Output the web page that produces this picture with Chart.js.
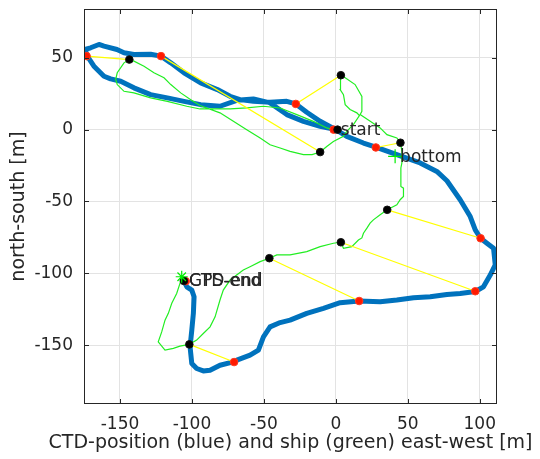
<!DOCTYPE html>
<html>
<head>
<meta charset="utf-8">
<script src="https://cdn.jsdelivr.net/npm/chart.js@4/dist/chart.umd.min.js"></script>
<style>
  html, body { margin: 0; padding: 0; background: #ffffff; }
  #wrap { width: 540px; height: 459px; }
</style>
</head>
<body>
<div id="wrap"><canvas id="c" width="540" height="459"></canvas></div>
<script>
// CTD track (blue), metres east-west / north-south
const ctdX = [0,-10.9,-22.5,-34.1,-45.7,-57.3,-68.8,-80.5,-93.9,-105.5,-117.1,-128.7,-140.3,-149.5,-156.5,-161.1,-168.1,-172.7,-174.3,-170.4,-164.6,-161.1,-152.1,-147.2,-140.3,-128.7,-121.5,-114.7,-105.5,-93.9,-82.3,-73.5,-66.6,-57.3,-45.7,-34.1,-27.8,-20.2,-10.9,0,7.6,19.2,27.8,42.4,58.6,70.2,77.2,86.4,93.4,96.9,100.6,105.0,109.6,110.8,107.3,102.6,96.9,86.4,77.2,65.6,54.0,42.4,30.8,16.2,3.0,-8.6,-20.2,-31.8,-38.7,-45.7,-50.3,-53.8,-59.6,-68.8,-71.2,-80.5,-87.4,-92.1,-96.7,-100.1,-101.3,-100.1,-99.0,-98.5,-100.1,-103.6,-105.5];
const ctdY = [0,2.3,5.8,10.5,18.6,21.4,20.4,16.3,17.4,19.7,22.1,24.4,29.1,33.7,35.4,37.2,44.2,51.2,55.8,57.0,59.3,58.1,55.8,53.5,52.3,52.5,51.2,46.5,39.6,32.6,27.9,23.2,20.9,19.7,19.1,19.7,17.9,12.1,5.8,0,-4.7,-9.3,-12.1,-17.4,-23.2,-29.1,-35.6,-48.8,-60.5,-69.8,-75.6,-79.1,-82.6,-94.2,-101.2,-109.4,-112.7,-114.0,-114.7,-116.3,-117.0,-118.6,-119.8,-119.3,-120.5,-124.4,-127.9,-132.6,-134.3,-137.3,-144.2,-153.5,-157.0,-160.5,-161.7,-164.0,-167.5,-168.0,-166.3,-162.8,-151.2,-139.6,-127.9,-116.3,-111.7,-109.4,-105.4];

// Ship track (green)
const shipX = [0,-6.3,-15.6,-27.1,-38.7,-50.3,-61.9,-73.5,-94.4,-103.6,-117.1,-128.7,-140.3,-147.2,-151.9,-153.0,-151.9,-147.2,-143.5,-140.3,-133.3,-126.4,-119.4,-114.7,-107.8,-100.8,-94.4,-80.5,-71.2,-61.9,-52.6,-45.7,-38.7,-31.8,-22.5,-16.5,-10.9,-6.3,-1.7,5.3,7.6,12.2,16.4,14.6,9.9,6.5,5.3,3.0,3.0,3.5,6.5,13.4,18.1,18.1,16.9,23.9,30.8,35.5,42.4,44.9,45.9,45.9,45.2,45.2,47.0,47.0,44.7,42.4,35.7,30.8,26.1,23.8,21.6,19.2,18.1,15.7,11.1,5.3,3.5,-1.7,-10.9,-20.2,-31.8,-41.0,-46.2,-52.6,-59.6,-64.3,-73.5,-78.2,-80.5,-83.9,-87.4,-92.1,-96.7,-101.8,-108.3,-112.9,-118.7,-123.4,-121.0,-118.7,-116.4,-114.0,-110.6,-108.3,-107.1];
const shipY = [-0.5,1.2,5.8,10.5,15.1,16.3,15.1,14.4,14.4,16.3,19.7,22.1,25.6,26.7,31.4,34.9,39.6,46.5,48.8,47.7,44.2,39.6,36.1,31.4,25.6,20.9,16.8,11.7,5.8,0,-5.8,-10.5,-12.8,-15.1,-17.4,-17.4,-15.6,-11.7,-8.2,-4.7,-1.2,3.5,9.8,11.7,14.0,17.4,24.4,27.9,34.9,37.9,36.1,31.4,23.2,12.8,10.5,5.8,1.2,-3.5,-5.8,-8.9,-15.1,-23.2,-26.7,-39.6,-40.7,-46.5,-48.8,-52.3,-55.8,-59.3,-62.8,-65.1,-68.6,-72.1,-75.4,-76.8,-81.4,-82.6,-78.4,-79.1,-81.4,-84.9,-87.2,-87.2,-89.5,-91.9,-95.4,-97.7,-104.7,-111.7,-118.6,-130.3,-137.3,-141.9,-146.5,-149.5,-150.7,-152.3,-153.5,-147.7,-140.8,-132.6,-127.9,-120.9,-114.0,-107.0,-102.4];

// Simultaneous positions: CTD (red) and ship (black)
const ctdMarkX = [-173.2,-121.5,-27.8,-1.5,27.8,100.6,96.9,16.2,-70.7,-104.3];
const ctdMarkY = [51.2,51.2,17.9,0,-12.4,-75.6,-112.5,-119.3,-161.8,-105.5];
const shipMarkX = [-143.5,-10.9,3.5,1.2,44.9,35.7,3.5,-46.2,-101.8,-105.6];
const shipMarkY = [48.8,-15.6,37.9,0,-9.1,-55.8,-78.4,-89.5,-149.5,-105.3];

// Special markers
const bottomMark = [41.2, -18.6];
const gpsEndMark = [-107.1, -102.4];

// Text annotations
const labelText = ['start', 'bottom', 'CTD-end', 'GPS-end'];
const labelX = [0, 41.2, -105.5, -105.5];
const labelY = [0, -18.6, -105.0, -105.0];

// Axes
const xTicks = [-150, -100, -50, 0, 50, 100];
const yTicks = [-150, -100, -50, 0, 50];
const xRange = [-175, 112];
const yRange = [-191, 84];
const xTitle = 'CTD-position (blue) and ship (green) east-west [m]';
const yTitle = 'north-south [m]';

const toPts = (xs, ys) => xs.map((x, i) => ({x: x, y: ys[i]}));
const yellowPts = [];
ctdMarkX.forEach((x, i) => {
  yellowPts.push({x: shipMarkX[i], y: shipMarkY[i]});
  yellowPts.push({x: x, y: ctdMarkY[i]});
  yellowPts.push({x: NaN, y: NaN});
});

const FONT = 'DejaVu Sans';
const AXC = '#262626';
const TITLE_SIZE = 19;

const boxPlugin = {
  id: 'boxPlugin',
  afterDatasetsDraw(chart) {
    const ctx = chart.ctx, xs = chart.scales.x, ys = chart.scales.y;
    ctx.save();
    ctx.fillStyle = AXC;
    ctx.font = '17px "' + FONT + '"';
    ctx.textAlign = 'left';
    ctx.textBaseline = 'middle';
    labelText.forEach((t, i) => {
      const px = xs.getPixelForValue(labelX[i]);
      const py = ys.getPixelForValue(labelY[i]);
      ctx.fillText(t, px + 5, py + 1);
    });
    ctx.restore();
  },
  afterDraw(chart) {
    const ctx = chart.ctx, a = chart.chartArea, xs = chart.scales.x, ys = chart.scales.y;
    ctx.save();
    ctx.strokeStyle = AXC;
    ctx.lineWidth = 1;
    const L = Math.round(a.left) + 0.5, R = Math.round(a.right) - 0.5;
    const T = Math.round(a.top) + 0.5, B = Math.round(a.bottom) - 0.5;
    ctx.strokeRect(L, T, R - L, B - T);
    const tl = 4.5;
    ctx.beginPath();
    xTicks.forEach(v => {
      const p = Math.round(xs.getPixelForValue(v)) + 0.5;
      ctx.moveTo(p, B); ctx.lineTo(p, B - tl);
      ctx.moveTo(p, T); ctx.lineTo(p, T + tl);
    });
    yTicks.forEach(v => {
      const p = Math.round(ys.getPixelForValue(v)) + 0.5;
      ctx.moveTo(L, p); ctx.lineTo(L + tl, p);
      ctx.moveTo(R, p); ctx.lineTo(R - tl, p);
    });
    ctx.stroke();
    // x-axis title (drawn without width squeezing)
    ctx.fillStyle = AXC;
    ctx.font = TITLE_SIZE + 'px "' + FONT + '"';
    ctx.textAlign = 'center';
    ctx.textBaseline = 'middle';
    ctx.fillText(xTitle, (a.left + a.right) / 2, 443);
    ctx.restore();
  }
};

new Chart(document.getElementById('c'), {
  type: 'scatter',
  data: {
    datasets: [
      { label: 'CTD', data: toPts(ctdX, ctdY), showLine: true, borderColor: '#0072BD',
        borderWidth: 5, pointRadius: 0, borderJoinStyle: 'round', borderCapStyle: 'round', order: 6 },
      { label: 'ship', data: toPts(shipX, shipY), showLine: true, borderColor: '#22ee22',
        borderWidth: 1.2, pointRadius: 0, order: 5 },
      { label: 'link', data: yellowPts, showLine: true, spanGaps: false, borderColor: '#ffff00',
        borderWidth: 1.2, pointRadius: 0, order: 4 },
      { label: 'ctdMarks', data: toPts(ctdMarkX, ctdMarkY), showLine: false, pointRadius: 3.8,
        pointBackgroundColor: '#ff1a00', pointBorderColor: '#ff3a20', pointBorderWidth: 1, order: 3 },
      { label: 'shipMarks', data: toPts(shipMarkX, shipMarkY), showLine: false, pointRadius: 3.8,
        pointBackgroundColor: '#000000', pointBorderColor: '#111111', pointBorderWidth: 1, order: 2 },
      { label: 'bottom', data: [{x: bottomMark[0], y: bottomMark[1]}], showLine: false,
        pointStyle: 'cross', pointRadius: 7, pointBorderColor: '#00ee00', pointBorderWidth: 1.2, order: 1 },
      { label: 'gpsEnd', data: [{x: gpsEndMark[0], y: gpsEndMark[1]}], showLine: false,
        pointStyle: 'star', pointRadius: 6, pointBorderColor: '#00ee00', pointBorderWidth: 1.2, order: 1 }
    ]
  },
  options: {
    responsive: false,
    animation: false,
    events: [],
    layout: { padding: { top: 9, right: 43, left: 0, bottom: 0 } },
    plugins: { legend: { display: false }, tooltip: { enabled: false } },
    scales: {
      x: {
        type: 'linear', min: xRange[0], max: xRange[1],
        afterBuildTicks: s => { s.ticks = xTicks.map(v => ({value: v})); },
        afterFit: s => { s.height = 55; s.paddingLeft = 0; s.paddingRight = 0; s.paddingTop = 0; s.paddingBottom = 0; },
        grid: { color: '#e3e3e3', drawTicks: false, lineWidth: 1 },
        border: { display: false },
        ticks: { color: AXC, font: { family: FONT, size: 17 }, padding: 10, maxRotation: 0 },
        title: { display: false }
      },
      y: {
        type: 'linear', min: yRange[0], max: yRange[1],
        afterBuildTicks: s => { s.ticks = yTicks.map(v => ({value: v})); },
        afterFit: s => { s.width = 84; s.paddingTop = 0; s.paddingBottom = 0; s.paddingLeft = 0; s.paddingRight = 0; },
        grid: { color: '#e3e3e3', drawTicks: false, lineWidth: 1 },
        border: { display: false },
        ticks: { color: AXC, font: { family: FONT, size: 17 }, padding: 11 },
        title: { display: true, text: yTitle, color: AXC, font: { family: FONT, size: TITLE_SIZE },
                 padding: { top: 8, bottom: 0 } }
      }
    }
  },
  plugins: [boxPlugin]
});
</script>
</body>
</html>
